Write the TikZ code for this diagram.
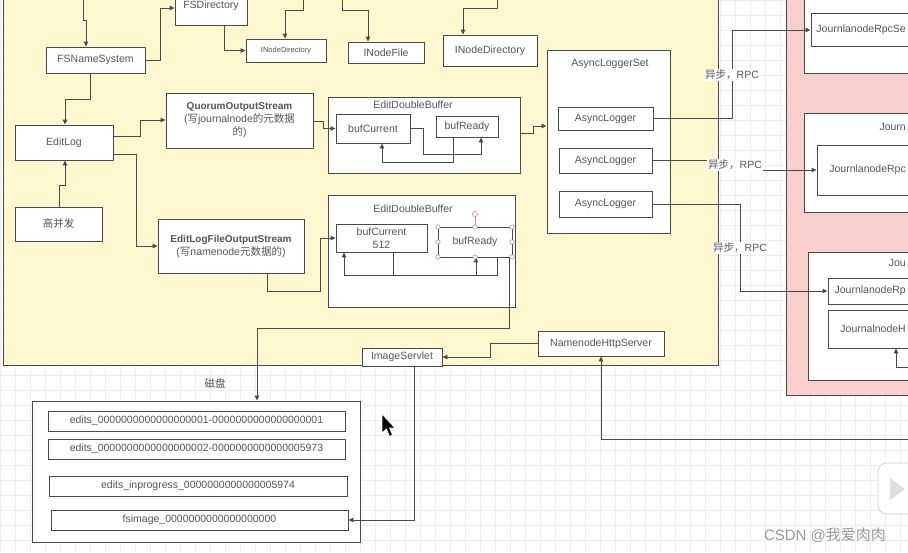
\documentclass[tikz,border=0pt]{standalone}
\usepackage{fontspec}
\setmainfont{Liberation Sans}
\newfontfamily\cjk{Noto Sans CJK SC}
\usetikzlibrary{arrows.meta}
\definecolor{yel}{HTML}{FFF7CF}
\definecolor{pnk}{HTML}{F8CFCC}
\definecolor{linec}{HTML}{4A4A4A}
\definecolor{txt}{HTML}{555555}
\definecolor{gridc}{HTML}{EEEEEE}
\definecolor{hdl}{HTML}{D98A8C}
\newcommand\zh[1]{{\cjk #1}}
\newcommand\labf{\fontsize{10.5}{13}\selectfont}
\begin{document}
\begin{tikzpicture}[x=1pt,y=-1pt,
  box/.style={draw=linec, fill=white, line width=0.9pt, text=txt, inner sep=0pt, font=\labf, align=center},
  corners/.style n args={4}{at={({(#1+#3)/2},{(#2+#4)/2})}, minimum width={#3-#1}, minimum height={#4-#2}},
  panel/.style={draw=linec, line width=0.9pt},
  ttl/.style={text=txt, font=\labf, inner sep=0pt},
  edge text/.style={ttl, anchor=east},
  wire/.style={draw=linec, line width=0.9pt},
  arr/.style={wire, -{Triangle[length=5pt,width=4.5pt]}},
  tag/.style={fill=white, text=txt, font=\labf, inner sep=1.5pt},
  handle/.style={draw=hdl, fill=white, line width=0.6pt}
]
\useasboundingbox (0,0) rectangle (908,552);
\clip (0,0) rectangle (908,552);
\fill[white] (0,0) rectangle (908,552);
% faint grid
\foreach \gx in {0,15,...,908} {\draw[gridc, line width=0.4pt] (\gx,0) -- (\gx,552);}
\foreach \gy in {0,15,...,552} {\draw[gridc, line width=0.4pt] (0,\gy) -- (908,\gy);}

% panels
\draw[panel, fill=yel] (3,-10) rectangle (718,365);
\draw[panel, fill=pnk] (786,-10) rectangle (960,395);

% ---- upper-left boxes
\node[box, corners={46}{47}{145}{73}] (fsn) {FSNameSystem};
\node[box, corners={175}{-20}{247}{25}] (fsd) {};
\node[ttl] (fsdt) at (211,6) {FSDirectory};
\node[box, corners={246}{39}{326}{62}, font=\fontsize{7.5}{9}\selectfont] (ind1) {INodeDirectory};
\node[box, corners={348}{42}{424}{63}] (inf) {INodeFile};
\node[box, corners={443}{35}{537}{66}] (ind2) {INodeDirectory};
\node[box, corners={15}{125}{113}{160}] (el) {EditLog};
\node[box, corners={15}{207}{102}{241}] (gbf) {\zh{高并发}};
\node[box, corners={166}{93}{313}{148}] (qos) {{\bfseries\fontsize{10}{12.5}\selectfont QuorumOutputStream}\\(\zh{写}journalnode\zh{的元数据}\\\zh{的})};
\node[box, corners={158}{219}{304}{273}] (elf) {{\bfseries\fontsize{10}{12.5}\selectfont EditLogFileOutputStream}\\(\zh{写}namenode\zh{元数据的})};

% ---- EditDoubleBuffer 1
\node[box, corners={328}{97}{520}{173}] (edb1) {};
\node[ttl] (edb1t) at (413,105) {EditDoubleBuffer};
\node[box, corners={336}{114}{410}{143}] (bc1) {bufCurrent};
\node[box, corners={436}{116}{498}{137}] (br1) {bufReady};

% ---- EditDoubleBuffer 2
\node[box, corners={328}{195}{515}{307}] (edb2) {};
\node[ttl] (edb2t) at (413,209) {EditDoubleBuffer};
\node[box, corners={336}{224}{427}{252}] (bc2) {bufCurrent\\512};
\node[box, corners={438}{227}{512}{257}] (br2) {bufReady};

% ---- AsyncLoggerSet
\node[box, corners={547}{50}{670}{233}] (als) {};
\node[ttl] (alst) at (610,64) {AsyncLoggerSet};
\node[box, corners={558}{107}{653}{130}] (al1) {AsyncLogger};
\node[box, corners={559}{148}{652}{173}] (al2) {AsyncLogger};
\node[box, corners={559}{191}{652}{217}] (al3) {AsyncLogger};

% ---- servlet / http server
\node[box, corners={538}{331}{664}{356}] (nhs) {NamenodeHttpServer};
\node[box, corners={362}{348}{442}{366}] (isv) {ImageServlet};

% ---- journal nodes (cut by the right edge of the screenshot)
\node[box, corners={804}{-20}{1010}{73}] (jn1) {};
\node[box, corners={811}{13}{1010}{46}] (jr1) {};
\node[edge text] (jr1t) at (906,30) {JournlanodeRpcSe};
\node[box, corners={804}{113}{1010}{212}] (jn2) {};
\node[edge text] (jn2t) at (906,127) {Journ};
\node[box, corners={817}{145}{1010}{195}] (jr2) {};
\node[edge text] (jr2t) at (906,170) {JournlanodeRpc};
\node[box, corners={808}{252}{1010}{380}] (jn3) {};
\node[edge text] (jn3t) at (906,263) {Jou};
\node[box, corners={828}{278}{1010}{304}] (jr3) {};
\node[edge text] (jr3t) at (906,291) {JournlanodeRp};
\node[box, corners={828}{310}{1010}{348}] (jh) {};
\node[edge text] (jht) at (906,329) {JournalnodeH};

% ---- disk
\node[ttl] (dlab) at (215,383) {\zh{磁盘}};
\node[box, corners={32}{401}{360}{542}] (disk) {};
\node[box, corners={48}{411}{345}{431}] (ed1) {edits\_0000000000000000001-0000000000000000001};
\node[box, corners={48}{439}{345}{459}] (ed2) {edits\_0000000000000000002-0000000000000005973};
\node[box, corners={49}{476}{347}{496}] (edp) {edits\_inprogress\_0000000000000005974};
\node[box, corners={51}{510}{348}{530}] (fsi) {fsimage\_0000000000000000000};

% free ends
\coordinate (t1) at (83,-5);
\coordinate (t2) at (303,-5);
\coordinate (t3) at (342,-5);
\coordinate (t4) at (497,-5);
\coordinate (t5) at (915,439);
\coordinate (t6) at (915,367);

% ---- connectors
\draw[arr] (t1) -- (83,20) -- (86,20) -- (86,20 |- fsn.north);
\draw[arr] (fsn.east) -- (160,60) -- (160,8) -- (fsd.west |- 0,8);
\draw[arr] (fsd.south -| 224,0) -- (224,50.5) -- (ind1.west);
\draw[arr] (t2) -- (303,10) -- (285,10) -- (285,0 |- ind1.north);
\draw[arr] (t3) -- (342,10) -- (368,10) -- (368,0 |- inf.north);
\draw[arr] (t4) -- (497,8) -- (463,8) -- (463,0 |- ind2.north);
\draw[arr] (fsn.south -| 90,0) -- (90,99) -- (65,99) -- (65,0 |- el.north);
\draw[arr] (el.east |- 0,136) -- (140,136) -- (140,120) -- (qos.west |- 0,120);
\draw[arr] (el.east |- 0,154) -- (136,154) -- (136,246) -- (elf.west |- 0,246);
\draw[arr] (gbf.north -| 59,0) -- (59,185) -- (65,185) -- (65,0 |- el.south);
\draw[arr] (qos.east |- 0,121) -- (323,121) -- (323,128.5) -- (bc1.west);
\draw[arr] (bc1.east) -- (423,128.5) -- (423,154) -- (481,154) -- (481,0 |- br1.south);
\draw[arr] (br1.south -| 453,0) -- (453,162) -- (382,162) -- (382,0 |- bc1.south);
\draw[arr] (edb1.east |- 0,133) -- (533,133) -- (533,126) -- (als.west |- 0,126);
\draw[arr] (elf.south -| 267,0) -- (267,291) -- (320,291) -- (320,238) -- (bc2.west);
\draw[arr] (bc2.south -| 393,0) -- (393,275) -- (476,275) -- (476,0 |- br2.south);
\draw[arr] (br2.south -| 497,0) -- (497,275) -- (344,275) -- (344,0 |- bc2.south);
\draw[arr] (br2.south -| 509,0) -- (509,328) -- (257,328) -- (257,0 |- disk.north);
\draw[arr] (al1.east) -- (732,118.5) -- (732,30) -- (jr1.west |- 0,30);
\draw[arr] (al2.east) -- (735,160.5) -- (735,170) -- (jr2.west);
\draw[arr] (al3.east) -- (740,204) -- (740,291) -- (jr3.west);
\draw[arr] (t5) -- (601,439) -- (nhs.south);
\draw[arr] (nhs.west) -- (490,343.5) -- (490,357) -- (isv.east);
\draw[arr] (isv.south -| 414,0) -- (414,520) -- (fsi.east);
\draw[arr] (t6) -- (896,367) -- (896,0 |- jh.south);

% connector labels
\node[tag] (r1) at (732,75) {\zh{异步，}RPC};
\node[tag] (r2) at (735,165) {\zh{异步，}RPC};
\node[tag] (r3) at (740,248) {\zh{异步，}RPC};

% selection handles on bufReady
\draw[hdl, line width=0.6pt] (475,227) -- (475,216);
\foreach \hx/\hy in {438/227,475/227,512/227,438/242,512/242,438/257,475/257,512/257}
  {\draw[handle] (\hx,\hy) circle (2.2);}
\draw[handle] (475,214) circle (2.6);

% mouse cursor
\draw[white, fill=black, line width=0.7pt, line join=round] (382,414) -- (382,433) -- (386.5,429) -- (389.5,436.5) -- (392.5,435) -- (389.5,428) -- (395,428) -- cycle;

% play icon at the edge
\draw[gray!35, fill=white, line width=0.8pt, rounded corners=9] (878,463) rectangle (935,514);
\fill[gray!25] (890,478) -- (890,500) -- (905,489) -- cycle;

% watermark
\node[text=gray!80, font=\fontsize{15}{18}\selectfont, inner sep=0pt] (wm) at (825,535) {CSDN @\zh{我爱肉肉}};
\end{tikzpicture}
\end{document}
